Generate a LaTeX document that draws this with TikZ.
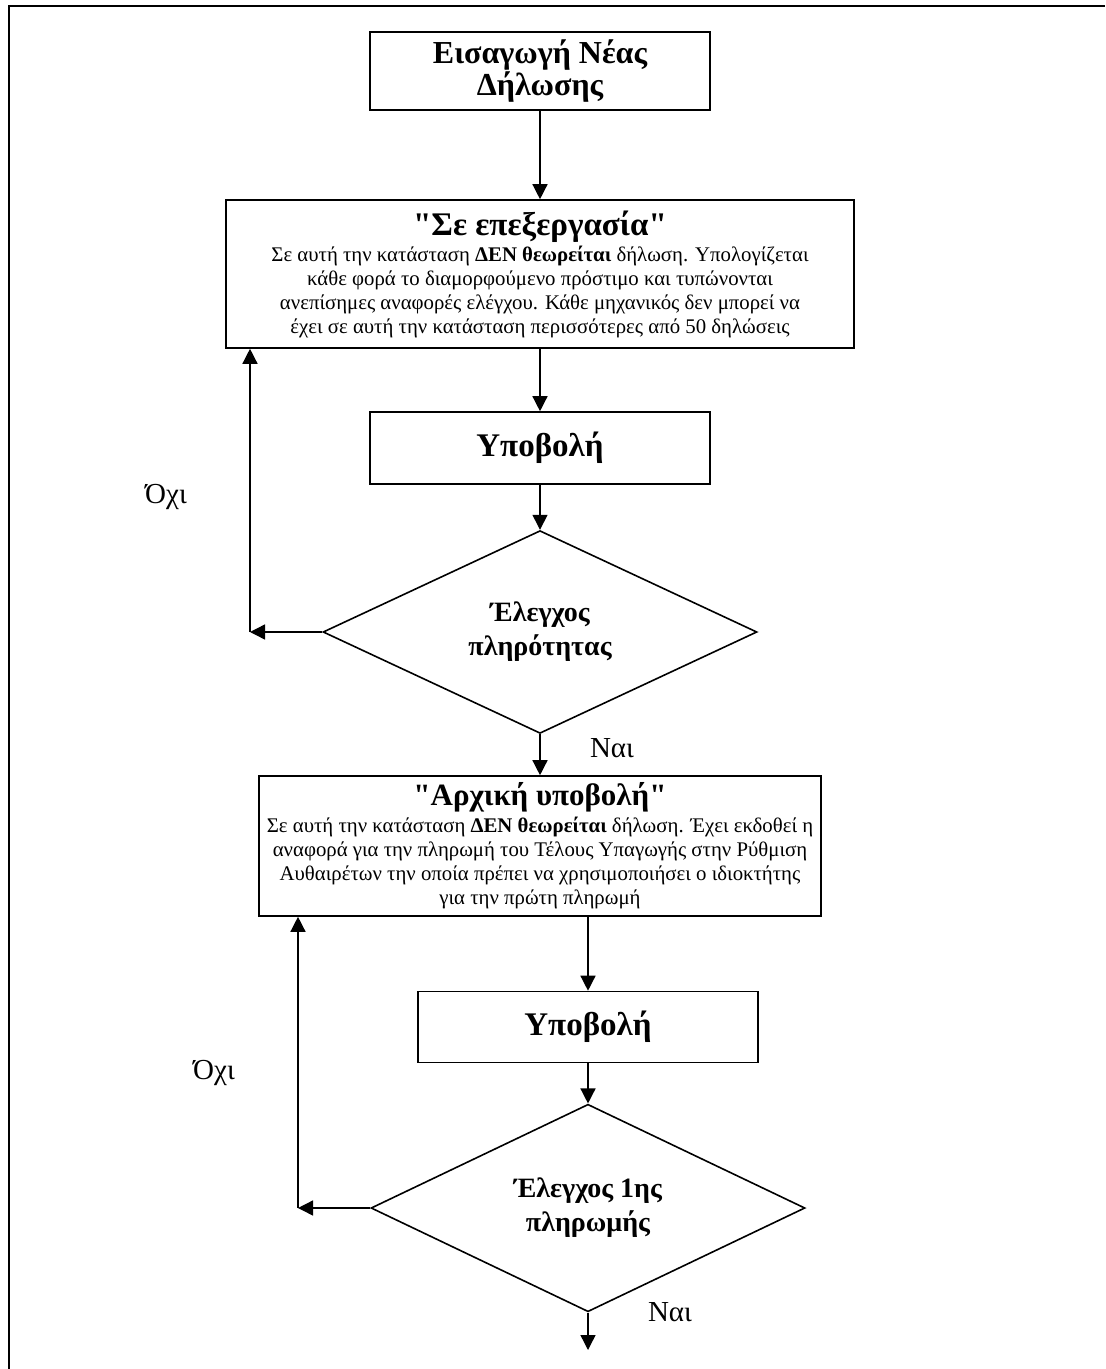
\documentclass[tikz,border=0pt]{standalone}
\usepackage{fontspec}
\setmainfont{Liberation Serif}[Ligatures=TeXOff]
\usetikzlibrary{shapes.geometric,arrows.meta}
\begin{document}
\begin{tikzpicture}[x=0.5pt,y=-0.5pt,
  box/.style={draw,line width=0.8pt,inner sep=0pt,align=center},
  arr/.style={line width=0.7pt,-{Triangle[length=7.5pt,width=7.5pt]}},
  dia/.style={draw,diamond,line width=0.8pt,inner sep=0pt,align=center,
    minimum width=217pt,minimum height=96pt,font=\bfseries\fontsize{14}{17}\selectfont},
  lbl/.style={font=\fontsize{14.5}{16}\selectfont},
  body/.style={font=\fontsize{10.4}{12}\selectfont}]
\useasboundingbox (0,0) rectangle (1105,1369);
\draw[line width=1pt] (9,1369) -- (9,6) -- (1105,6);

\node[box,minimum width=170pt,minimum height=39pt,font=\bfseries\fontsize{16}{16}\selectfont] (b1) at (540,71) {Εισαγωγή Νέας\\Δήλωσης};

\node[box,body,minimum width=314pt,minimum height=74pt] (b2) at (540,274)
 {{\bfseries\fontsize{16.5}{18}\selectfont "Σε επεξεργασία"}\\[1pt]
  Σε αυτή την κατάσταση \textbf{ΔΕΝ θεωρείται} δήλωση. Υπολογίζεται\\
  κάθε φορά το διαμορφούμενο πρόστιμο και τυπώνονται\\
  ανεπίσημες αναφορές ελέγχου. Κάθε μηχανικός δεν μπορεί να\\
  έχει σε αυτή την κατάσταση περισσότερες από 50 δηλώσεις};

\node[box,minimum width=170pt,minimum height=36pt,font=\bfseries\fontsize{16.5}{18}\selectfont] (b3) at (540,448) {Υποβολή};

\node[dia] (d1) at (540,632) {Έλεγχος\\πληρότητας};

\node[box,body,minimum width=281pt,minimum height=70pt] (b4) at (540,846)
 {{\bfseries\fontsize{15.5}{17}\selectfont "Αρχική υποβολή"}\\[1.5pt]
  Σε αυτή την κατάσταση \textbf{ΔΕΝ θεωρείται} δήλωση. Έχει εκδοθεί η\\
  αναφορά για την πληρωμή του Τέλους Υπαγωγής στην Ρύθμιση\\
  Αυθαιρέτων την οποία πρέπει να χρησιμοποιήσει ο ιδιοκτήτης\\
  για την πρώτη πληρωμή};

\node[box,minimum width=170pt,minimum height=35.5pt,font=\bfseries\fontsize{16.5}{18}\selectfont] (b5) at (588,1027) {Υποβολή};

\node[dia,minimum height=95pt] (d2) at (588,1208) {Έλεγχος 1ης\\πληρωμής};

\coordinate (c1) at (250,632);
\coordinate (c2) at (298,1208);
\coordinate (e) at (588,1350);

\node[lbl] (no1) at (166,497) {Όχι};
\node[lbl] (no2) at (214,1073) {Όχι};
\node[lbl] (yes1) at (612,748) {Ναι};
\node[lbl] (yes2) at (670,1312) {Ναι};

\draw[arr] (b1.south) -- (b2.north);
\draw[arr] (b2.south) -- (b3.north);
\draw[arr] (b3.south) -- (d1.north);
\draw[arr] (d1.west) -- (c1);
\draw[arr] (c1) -- (c1 |- b2.south);
\draw[arr] (d1.south) -- (b4.north);
\draw[arr] (b5.north |- b4.south) -- (b5.north);
\draw[arr] (b5.south) -- (d2.north);
\draw[arr] (d2.west) -- (c2);
\draw[arr] (c2) -- (c2 |- b4.south);
\draw[arr] (d2.south) -- (e);
\end{tikzpicture}
\end{document}
